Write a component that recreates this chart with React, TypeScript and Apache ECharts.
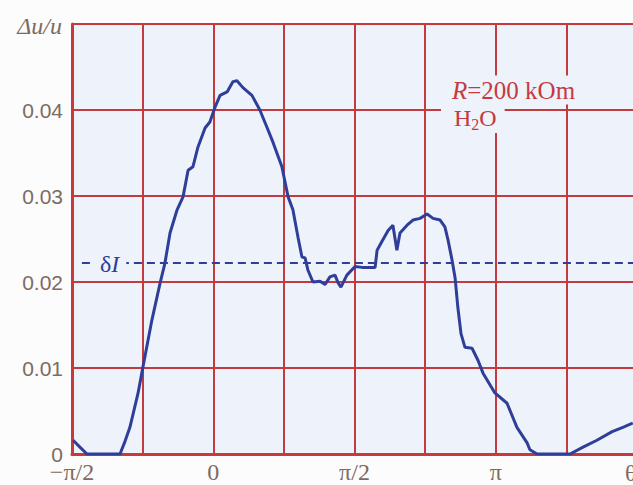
import React, { useEffect, useRef } from "react";
import * as echarts from "echarts";

// x in units of π (θ/π), y = Δu/u
const thetaOverPi = [
  -0.496, -0.472, -0.447, -0.33, -0.312, -0.295, -0.266, -0.249, -0.217, -0.188,
  -0.171, -0.153, -0.128, -0.107, -0.089, -0.072, -0.054, -0.029, -0.012, 0.006,
  0.024, 0.049, 0.07, 0.084, 0.105, 0.137, 0.165, 0.19, 0.212, 0.243,
  0.265, 0.282, 0.3, 0.314, 0.325, 0.335, 0.353, 0.378, 0.396, 0.413,
  0.431, 0.442, 0.452, 0.473, 0.502, 0.527, 0.548, 0.573, 0.58, 0.597,
  0.619, 0.636, 0.65, 0.661, 0.686, 0.707, 0.732, 0.757, 0.778, 0.803,
  0.82, 0.831, 0.845, 0.856, 0.866, 0.877, 0.891, 0.916, 0.937, 0.955,
  0.997, 1.04, 1.075, 1.111, 1.121, 1.146, 1.263, 1.309, 1.358, 1.412,
  1.45, 1.485,
];
const deltaU = [
  0.0016, 0.0008, 0.0, 0.0, 0.0015, 0.0031, 0.0071, 0.0101, 0.0156, 0.0199,
  0.0222, 0.0257, 0.0284, 0.0299, 0.033, 0.0334, 0.0357, 0.0379, 0.0386, 0.0403,
  0.0417, 0.0421, 0.0433, 0.0434, 0.0426, 0.0417, 0.04, 0.038, 0.0362, 0.0334,
  0.0299, 0.0284, 0.0252, 0.0229, 0.0228, 0.0214, 0.02, 0.0201, 0.0197, 0.0206,
  0.0208, 0.0199, 0.0194, 0.0208, 0.0218, 0.0217, 0.0217, 0.0217, 0.0237, 0.0247,
  0.026, 0.0266, 0.0237, 0.0257, 0.0266, 0.0272, 0.0274, 0.0279, 0.0274, 0.0272,
  0.0264, 0.0249, 0.0226, 0.0205, 0.017, 0.014, 0.0124, 0.0123, 0.0109, 0.0094,
  0.0071, 0.0059, 0.0031, 0.0013, 0.0005, 0.0, 0.0, 0.0008, 0.0016, 0.0026,
  0.0031, 0.0036,
];
const deltaILevel = 0.0222;
const deltaIStart = -0.465;
const xMin = -0.5;
const xMax = 1.5;
const xTickLabels: Record<string, string> = { "-0.5": "−π/2", "0": "0", "0.5": "π/2", "1": "π" };
const yTickValues = [0, 0.01, 0.02, 0.03, 0.04];

const RED = "#c43b3f";
const BLUE = "#2f3f99";
const LABEL = "#7d6b5f";
const PLOT_BG = "#eef2fa";
const SERIF = "'Liberation Serif', 'DejaVu Serif', serif";
const SANS = "'Liberation Sans', Arial, sans-serif";

export default function App() {
  const ref = useRef<HTMLDivElement>(null);
  useEffect(() => {
    if (!ref.current) return;
    const chart = echarts.init(ref.current, undefined, { renderer: "svg" });
    const data = thetaOverPi.map((x, i) => [x, deltaU[i]]);
    chart.setOption({
      animation: false,
      backgroundColor: "#fcfcfd",
      grid: {
        left: 72,
        top: 24,
        bottom: 31,
        right: -4,
        outerBoundsMode: "none",
        containLabel: false,
        show: true,
        backgroundColor: PLOT_BG,
        borderWidth: 0,
      },
      xAxis: {
        type: "value",
        min: xMin,
        max: xMax,
        interval: 0.25,
        axisLine: { show: true, onZero: false, lineStyle: { color: RED, width: 3 } },
        axisTick: { show: false },
        splitLine: { show: true, lineStyle: { color: RED, width: 2 } },
        axisLabel: {
          margin: 6,
          color: LABEL,
          fontFamily: SERIF,
          fontSize: 24,
          showMinLabel: true,
          showMaxLabel: true,
          formatter: (v: number) => xTickLabels[String(Math.round(v * 100) / 100)] ?? "",
        },
      },
      yAxis: {
        type: "value",
        min: 0,
        max: 0.05,
        interval: 0.01,
        axisLine: { show: true, onZero: false, lineStyle: { color: RED, width: 3 } },
        axisTick: { show: false },
        splitLine: { show: true, lineStyle: { color: RED, width: 2 } },
        axisLabel: {
          margin: 9,
          color: LABEL,
          fontFamily: SANS,
          fontSize: 21,
          formatter: (v: number) => {
            const r = Math.round(v * 1000) / 1000;
            if (!yTickValues.includes(r)) return "";
            return r === 0 ? "0" : r.toFixed(2);
          },
        },
      },
      series: [
        {
          type: "line",
          data: [
            [deltaIStart, deltaILevel],
            [xMax, deltaILevel],
          ],
          showSymbol: false,
          symbol: "none",
          silent: true,
          lineStyle: { color: BLUE, width: 2, type: [8, 5] },
          z: 4,
        },
        {
          type: "line",
          data,
          showSymbol: false,
          symbol: "none",
          lineStyle: { color: BLUE, width: 3 },
          z: 5,
        },
      ],
      graphic: [
        {
          type: "text",
          z: 100,
          x: 62,
          y: 26,
          style: {
            text: "Δu/u",
            fill: LABEL,
            font: `italic 24px ${SERIF}`,
            align: "right",
            verticalAlign: "middle",
          },
        },
        {
          type: "text",
          z: 100,
          x: 625,
          y: 473,
          style: {
            text: "θ",
            fill: LABEL,
            font: `24px ${SERIF}`,
            align: "left",
            verticalAlign: "middle",
          },
        },
        {
          type: "text",
          z: 100,
          x: 94,
          y: 264,
          style: {
            text: "{a|δ}{b|I}",
            rich: {
              a: { fontFamily: SERIF, fontSize: 24, fill: BLUE, color: BLUE },
              b: { fontFamily: SERIF, fontSize: 24, fontStyle: "italic", fill: BLUE, color: BLUE },
            },
            backgroundColor: PLOT_BG,
            padding: [2, 7, 2, 6],
            align: "left",
            verticalAlign: "middle",
          },
        },
        {
          type: "text",
          z: 100,
          x: 441,
          y: 90,
          style: {
            text: "{i|R}{n|=200 kOm}",
            rich: {
              i: { fontFamily: SERIF, fontSize: 25, fontStyle: "italic", fill: RED, color: RED },
              n: { fontFamily: SERIF, fontSize: 25, fill: RED, color: RED },
            },
            backgroundColor: PLOT_BG,
            padding: [2, 6, 2, 11],
            align: "left",
            verticalAlign: "middle",
          },
        },
        {
          type: "text",
          z: 100,
          x: 441,
          y: 118,
          style: {
            text: "{n|H}{s|2}{n|O}",
            rich: {
              n: { fontFamily: SERIF, fontSize: 24, lineHeight: 28, fill: RED, color: RED },
              s: { fontFamily: SERIF, fontSize: 16, lineHeight: 20, verticalAlign: "bottom", fill: RED, color: RED },
            },
            backgroundColor: PLOT_BG,
            padding: [1, 8, 1, 13],
            align: "left",
            verticalAlign: "middle",
          },
        },
      ],
    });
    return () => chart.dispose();
  }, []);
  return (
    <div
      ref={ref}
      style={{ position: "fixed", left: 0, top: 0, width: 633, height: 485 }}
    />
  );
}
